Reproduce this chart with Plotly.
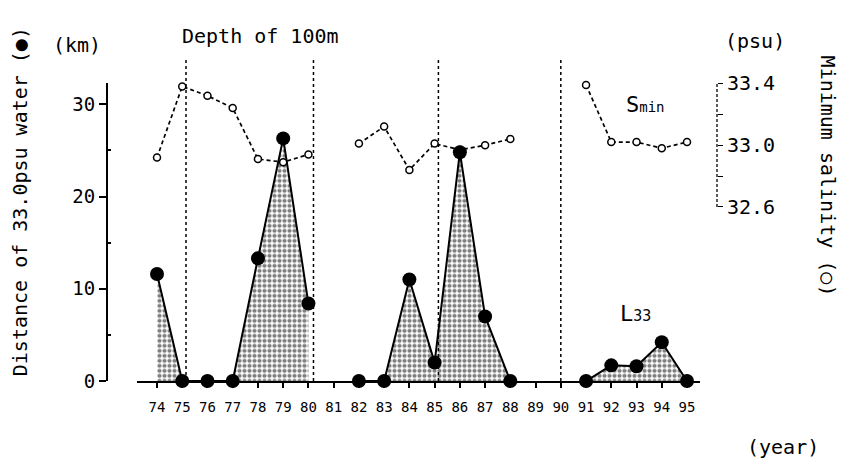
import plotly.graph_objects as go

# ---------------- data ----------------
years = list(range(74, 96))
year_labels = [str(y) for y in years]
# distance of 33.0 psu water (km); None = no observation
distance_km = [11.6, 0, 0, 0, 13.3, 26.3, 8.4, None, 0, 0, 11.0, 2.0, 24.8, 7.0, 0,
               None, None, 0, 1.7, 1.6, 4.2, 0]
# minimum salinity (psu)
salinity = [32.92, 33.38, 33.32, 33.24, 32.91, 32.89, 32.94, None, 33.01, 33.12, 32.84,
            33.01, 32.97, 33.00, 33.04, None, None, 33.39, 33.02, 33.02, 32.98, 33.02]
period_lines = [75.15, 80.2, 85.15, 90.0]
left_ticks = [0, 10, 20, 30]
right_ticks = [32.6, 33.0, 33.4]
right_ticktext = ["32.6", "33.0", "33.4"]

W, H = 845, 471
FONT = "DejaVu Sans Mono"


def px(x):
    return x / W


def py(y):
    return 1 - y / H


# axis geometry (pixels)
x_left_px, x_right_px = 137, 700
y_bot_px, y_top_px = 388, 75
yr0_px, yr_step = 157, 25.238
km_px = 9.7
psu_px = 162.5
psu_ref_px = 140  # pixel of 33.0 psu

x_range = [74 - (yr0_px - x_left_px) / yr_step, 95 + (x_right_px - (yr0_px + 21 * yr_step)) / yr_step]
y_range = [0, (y_bot_px - y_top_px) / km_px]
y2_range = [33.0 - (y_bot_px - psu_ref_px) / psu_px, 33.0 + (psu_ref_px - y_top_px) / psu_px]

fig = go.Figure()

# split the distance series into continuous segments so fills don't bridge gaps
segments = []
cur_x, cur_y = [], []
for xv, yv in zip(years, distance_km):
    if yv is None:
        if cur_x:
            segments.append((cur_x, cur_y))
        cur_x, cur_y = [], []
    else:
        cur_x.append(xv)
        cur_y.append(yv)
if cur_x:
    segments.append((cur_x, cur_y))

for sx, sy in segments:
    fig.add_trace(go.Scatter(
        x=sx, y=sy, mode="lines", fill="tozeroy",
        line=dict(color="black", width=2),
        fillcolor="white",
        fillpattern=dict(shape=".", fgcolor="black", bgcolor="white", size=5, solidity=0.55),
        showlegend=False, hoverinfo="skip",
        xaxis="x", yaxis="y", cliponaxis=False,
    ))

# salinity
fig.add_trace(go.Scatter(
    x=years, y=salinity, mode="lines+markers",
    line=dict(color="black", width=1.7, dash="4px,3px"),
    marker=dict(symbol="circle", size=7, color="white", line=dict(color="black", width=1.5)),
    connectgaps=False, showlegend=False, xaxis="x", yaxis="y2", cliponaxis=False,
))

# distance markers on top
fig.add_trace(go.Scatter(
    x=years, y=distance_km, mode="markers",
    marker=dict(symbol="circle", size=14, color="black"),
    showlegend=False, xaxis="x", yaxis="y3", cliponaxis=False,
))

shapes = []
for xv in period_lines:
    shapes.append(dict(type="line", xref="x", yref="paper", x0=xv, x1=xv,
                       y0=py(y_bot_px), y1=py(50),
                       line=dict(color="black", width=1.5, dash="dot")))
# dashed salinity axis bracket
shapes.append(dict(type="line", xref="paper", yref="y2", x0=px(717), x1=px(717),
                   y0=right_ticks[0], y1=right_ticks[-1],
                   line=dict(color="black", width=1.3, dash="3px,2px")))

annotations = [
    dict(text="Depth of 100m", x=px(260), y=py(25)),
    dict(text="(km)", x=px(77), y=py(35)),
    dict(text="(psu)", x=px(755), y=py(31)),
    dict(text="(year)", x=px(783), y=py(457)),
    dict(text="S<span style='font-size:14px'>min</span>", x=px(645), y=py(97), size=22),
    dict(text="L<span style='font-size:15px'>33</span>", x=px(635), y=py(317), size=22),
    dict(text="Distance of 33.0psu water (●)", x=px(20), y=py(200), textangle=-90),
    dict(text="Minimum salinity (○)", x=px(828), y=py(172), textangle=90),
]
ann = []
for a in annotations:
    ann.append(dict(text=a["text"], x=a["x"], y=a["y"], xref="paper", yref="paper",
                    xanchor="center", yanchor="middle", showarrow=False,
                    textangle=a.get("textangle", 0),
                    font=dict(family=FONT, size=a.get("size", 20), color="black")))

fig.update_layout(
    width=W, height=H,
    margin=dict(l=0, r=0, t=0, b=0),
    paper_bgcolor="white", plot_bgcolor="white",
    showlegend=False,
    shapes=shapes, annotations=ann,
    font=dict(family=FONT, color="black"),
    xaxis=dict(
        domain=[px(x_left_px), px(x_right_px)], range=x_range,
        tickvals=years, ticktext=year_labels,
        ticks="outside", ticklen=5, tickwidth=1.5, tickcolor="black",
        showline=True, linecolor="black", linewidth=2,
        showgrid=False, zeroline=False,
        tickfont=dict(family=FONT, size=14, color="black"),
        ticklabelstandoff=7,
    ),
    yaxis=dict(
        domain=[py(y_bot_px), py(y_top_px)], range=y_range,
        anchor="free", position=px(107),
        tickvals=left_ticks, ticks="outside", ticklen=7, tickwidth=1.5, tickcolor="black",
        showline=True, linecolor="black", linewidth=2,
        showgrid=False, zeroline=False,
        tickfont=dict(family=FONT, size=19, color="black"),
        minor=dict(tickvals=[5, 15, 25], ticks="inside", ticklen=3, tickcolor="black"),
    ),
    yaxis2=dict(
        overlaying="y", anchor="free", position=px(717), side="right",
        range=y2_range, tickvals=right_ticks, ticktext=right_ticktext,
        ticks="outside", ticklen=5, tickwidth=1.3, tickcolor="black",
        showline=False, showgrid=False, zeroline=False,
        tickfont=dict(family=FONT, size=20, color="black"),
        minor=dict(tickvals=[32.8, 33.2], ticks="outside", ticklen=5, tickcolor="black"),
    ),
    yaxis3=dict(
        overlaying="y", anchor="x", range=y_range, visible=False,
    ),
)

fig.write_html("out.html")
